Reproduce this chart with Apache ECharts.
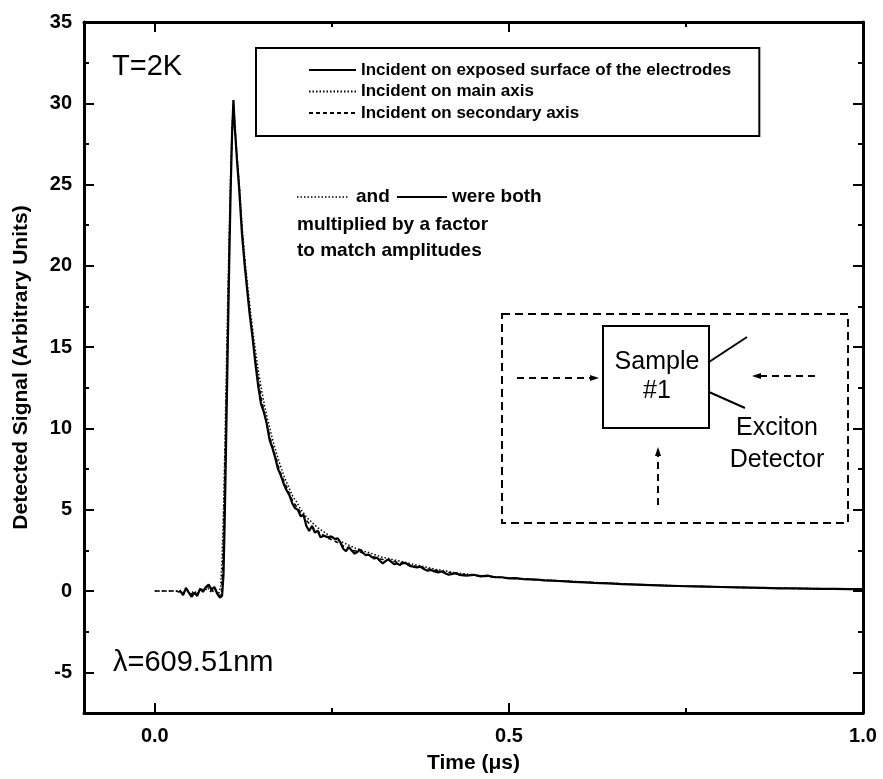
<!DOCTYPE html>
<html>
<head>
<meta charset="utf-8">
<script src="https://cdn.jsdelivr.net/npm/echarts@6/dist/echarts.min.js"></script>
<style>html,body{margin:0;padding:0;background:#fff;}#c{width:883px;height:779px;}</style>
</head>
<body>
<div id="c"></div>
<script>
var seriesNames = ['Incident on exposed surface of the electrodes', 'Incident on main axis', 'Incident on secondary axis'];
var xTicks = [0, 0.5, 1.0];
var xMinorTicks = [0.25, 0.75];
var yTicks = [-5, 0, 5, 10, 15, 20, 25, 30, 35];
var yMinorTicks = [-2.5, 2.5, 7.5, 12.5, 17.5, 22.5, 27.5, 32.5];

var exposedSurface = [[0.035,0.05],[0.040,-0.25],[0.044,0.2],[0.048,-0.1],[0.052,-0.35],[0.056,-0.1],[0.060,-0.3],[0.064,0.15],[0.068,-0.05],[0.072,0.25],[0.076,0.4],[0.080,0.1],[0.084,0.25],[0.088,-0.15],[0.092,-0.4],[0.095,-0.3],[0.097,1.0],[0.099,5],[0.101,10],[0.103,15],[0.105,20],[0.107,24.5],[0.109,28],[0.111,30.2],[0.113,28.5],[0.116,26.5],[0.119,24.8],[0.123,22],[0.127,20],[0.130,18.7],[0.134,17],[0.138,15.6],[0.142,14],[0.146,12.6],[0.150,11.5],[0.154,11.0],[0.158,10.3],[0.162,9.3],[0.166,8.8],[0.170,8.2],[0.174,7.5],[0.178,7.1],[0.182,6.6],[0.186,6.2],[0.190,5.9],[0.194,5.4],[0.198,5.1],[0.202,5.0],[0.206,4.6],[0.210,4.7],[0.214,4.0],[0.218,3.7],[0.222,4.0],[0.226,3.6],[0.230,3.7],[0.234,3.3],[0.238,3.4],[0.242,3.35],[0.246,3.3],[0.250,3.35],[0.254,3.2],[0.258,3.25],[0.262,3.0],[0.266,2.6],[0.270,2.45],[0.274,2.7],[0.278,2.5],[0.282,2.3],[0.286,2.4],[0.290,2.55],[0.294,2.35],[0.298,2.2],[0.302,2.25],[0.306,2.1],[0.310,2.0],[0.314,2.05],[0.318,1.85],[0.322,1.7],[0.326,1.85],[0.330,1.95],[0.334,1.8],[0.338,1.65],[0.342,1.7],[0.346,1.6],[0.350,1.75],[0.355,1.7],[0.360,1.55],[0.365,1.5],[0.370,1.45],[0.375,1.5],[0.380,1.35],[0.385,1.25],[0.390,1.3],[0.395,1.2],[0.400,1.15],[0.405,1.2],[0.410,1.1],[0.415,1.0],[0.420,1.05],[0.425,1.1],[0.430,1.0],[0.440,0.95],[0.450,1.0],[0.460,0.9],[0.470,0.95],[0.480,0.85],[0.490,0.85],[0.500,0.78],[0.510,0.8],[0.520,0.74],[0.530,0.72],[0.540,0.7],[0.550,0.66],[0.560,0.64],[0.570,0.62],[0.580,0.6],[0.590,0.56],[0.600,0.55],[0.620,0.5],[0.640,0.47],[0.660,0.43],[0.680,0.4],[0.700,0.37],[0.720,0.34],[0.740,0.31],[0.760,0.29],[0.780,0.27],[0.800,0.25],[0.820,0.23],[0.840,0.21],[0.860,0.19],[0.880,0.17],[0.900,0.16],[0.920,0.15],[0.940,0.14],[0.960,0.13],[0.980,0.12],[1.000,0.12]];

var mainAxis = [[0,0],[0.01,0],[0.02,0],[0.03,0],[0.035,0],[0.04,-0.1],[0.045,0.1],[0.05,-0.2],[0.055,0.0],[0.06,-0.15],[0.065,0.1],[0.07,0.0],[0.075,0.2],[0.08,-0.1],[0.085,0.1],[0.09,-0.2],[0.093,0.3],[0.095,2],[0.097,5],[0.099,9],[0.101,13.5],[0.103,18],[0.105,22],[0.107,25.5],[0.109,28.5],[0.111,29.8],[0.113,28.6],[0.116,26.8],[0.119,25.2],[0.123,22.6],[0.127,20.5],[0.131,18.8],[0.135,17.2],[0.139,15.8],[0.143,14.5],[0.147,13.3],[0.151,12.3],[0.155,11.4],[0.159,10.6],[0.163,9.9],[0.167,9.2],[0.171,8.6],[0.175,8.0],[0.179,7.5],[0.183,7.0],[0.187,6.6],[0.191,6.2],[0.195,5.8],[0.2,5.5],[0.205,5.1],[0.21,4.8],[0.215,4.5],[0.22,4.3],[0.225,4.1],[0.23,3.9],[0.235,3.75],[0.24,3.6],[0.245,3.45],[0.25,3.3],[0.255,3.2],[0.26,3.1],[0.265,3.0],[0.27,2.9],[0.275,2.8],[0.28,2.7],[0.285,2.6],[0.29,2.55],[0.295,2.45],[0.3,2.4],[0.31,2.25],[0.32,2.1],[0.33,2.0],[0.34,1.9],[0.35,1.8],[0.36,1.7],[0.37,1.6],[0.38,1.5],[0.39,1.4],[0.4,1.3],[0.41,1.25],[0.42,1.15],[0.43,1.1],[0.44,1.05],[0.45,1.0],[0.46,0.95],[0.48,0.88],[0.5,0.8],[0.52,0.75],[0.54,0.7],[0.56,0.66],[0.58,0.62],[0.6,0.58],[0.62,0.53],[0.64,0.49],[0.66,0.45],[0.68,0.41],[0.7,0.38],[0.72,0.35],[0.74,0.32],[0.76,0.3],[0.78,0.28],[0.8,0.26],[0.82,0.24],[0.84,0.22],[0.86,0.2],[0.88,0.18],[0.9,0.17],[0.92,0.16],[0.94,0.15],[0.96,0.14],[0.98,0.13],[1.0,0.13]];

var secondaryAxis = [[0,0],[0.01,0],[0.02,0],[0.03,0],[0.04,-0.15],[0.045,0.15],[0.05,-0.25],[0.055,-0.05],[0.06,-0.2],[0.065,0.1],[0.07,0.1],[0.075,0.3],[0.08,0.0],[0.085,0.2],[0.09,-0.3],[0.094,-0.2],[0.096,1.5],[0.098,5.5],[0.100,10],[0.102,14.5],[0.104,19],[0.106,23],[0.108,26.5],[0.110,29.2],[0.111,30.0],[0.113,28.6],[0.116,26.6],[0.119,25.0],[0.123,22.3],[0.127,20.2],[0.131,18.4],[0.135,16.8],[0.139,15.3],[0.143,13.9],[0.147,12.7],[0.151,11.7],[0.155,10.9],[0.159,10.1],[0.163,9.4],[0.167,8.8],[0.171,8.2],[0.175,7.6],[0.179,7.1],[0.183,6.7],[0.187,6.3],[0.191,5.9],[0.195,5.5],[0.2,5.2],[0.205,4.9],[0.21,4.6],[0.215,4.3],[0.22,4.05],[0.225,3.85],[0.23,3.7],[0.235,3.5],[0.24,3.4],[0.245,3.25],[0.25,3.15],[0.255,3.05],[0.26,2.95],[0.265,2.8],[0.27,2.7],[0.275,2.65],[0.28,2.5],[0.29,2.4],[0.3,2.25],[0.31,2.1],[0.32,1.95],[0.33,1.9],[0.34,1.8],[0.35,1.7],[0.36,1.6],[0.37,1.5],[0.38,1.42],[0.39,1.33],[0.4,1.25],[0.41,1.18],[0.42,1.1],[0.43,1.05],[0.44,1.0],[0.45,0.97],[0.46,0.92],[0.48,0.86],[0.5,0.79],[0.52,0.74],[0.54,0.69],[0.56,0.65],[0.58,0.61],[0.6,0.56],[0.62,0.52],[0.64,0.48],[0.66,0.44],[0.68,0.4],[0.7,0.37],[0.72,0.34],[0.74,0.31],[0.76,0.29],[0.78,0.27],[0.8,0.25],[0.82,0.23],[0.84,0.21],[0.86,0.19],[0.88,0.18],[0.9,0.16],[0.92,0.15],[0.94,0.14],[0.96,0.13],[0.98,0.12],[1.0,0.12]];

var FONT = '"Liberation Sans", Arial, sans-serif';
var chart = echarts.init(document.getElementById('c'), null, {renderer: 'canvas'});

function xAx(pos, ticks, len, line, labels) {
  return {
    type: 'value', min: -0.1, max: 1.0, position: pos,
    axisLine: {show: line, onZero: false, lineStyle: {color: '#000', width: 3}},
    axisTick: {show: true, inside: true, length: len, customValues: ticks, lineStyle: {color: '#000', width: 2}},
    axisLabel: labels ? {show: true, customValues: ticks, formatter: function (v) { return v.toFixed(1); }, fontSize: 20, fontWeight: 'bold', color: '#000', margin: 13, fontFamily: FONT} : {show: false},
    splitLine: {show: false}
  };
}
function yAx(pos, ticks, len, line, labels) {
  return {
    type: 'value', min: -7.5, max: 35, position: pos,
    axisLine: {show: line, onZero: false, lineStyle: {color: '#000', width: 3}},
    axisTick: {show: true, inside: true, length: len, customValues: ticks, lineStyle: {color: '#000', width: 2}},
    axisLabel: labels ? {show: true, customValues: ticks, fontSize: 20, fontWeight: 'bold', color: '#000', margin: 12, fontFamily: FONT} : {show: false},
    splitLine: {show: false}
  };
}

var xa0 = xAx('bottom', xTicks, 10, true, true);
xa0.name = 'Time (\u03bcs)';
xa0.nameLocation = 'middle';
xa0.nameGap = 40;
xa0.nameTextStyle = {fontSize: 21, fontWeight: 'bold', color: '#000', fontFamily: FONT};
var ya0 = yAx('left', yTicks, 10, true, true);
ya0.name = 'Detected Signal (Arbitrary Units)';
ya0.nameLocation = 'middle';
ya0.nameGap = 52;
ya0.nameTextStyle = {fontSize: 21, fontWeight: 'bold', color: '#000', fontFamily: FONT};

var option = {
  animation: false,
  backgroundColor: '#fff',
  grid: {left: 84, right: 20, top: 22, bottom: 62, containLabel: false},
  xAxis: [xa0, xAx('bottom', xMinorTicks, 5, false, false), xAx('top', xTicks, 10, true, false), xAx('top', xMinorTicks, 5, false, false)],
  yAxis: [ya0, yAx('left', yMinorTicks, 5, false, false), yAx('right', yTicks, 10, true, false), yAx('right', yMinorTicks, 5, false, false)],
  legend: {
    show: true, orient: 'vertical', left: 256, top: 48,
    data: seriesNames,
    itemWidth: 47, itemHeight: 14, itemGap: 3.5,
    padding: [13, 28, 14, 52],
    borderColor: '#000', borderWidth: 2, borderRadius: 0,
    itemStyle: {opacity: 0},
    textStyle: {fontSize: 17, fontWeight: 'bold', color: '#000', fontFamily: FONT, lineHeight: 18}
  },
  series: [
    {name: seriesNames[0], type: 'line', data: exposedSurface, symbol: 'none', z: 5, lineStyle: {color: '#000', width: 2.2, type: 'solid'}, itemStyle: {color: '#000'}},
    {name: seriesNames[1], type: 'line', data: mainAxis, symbol: 'none', z: 4, lineStyle: {color: '#000', width: 1.5, type: [1.5, 2]}, itemStyle: {color: '#000'}},
    {name: seriesNames[2], type: 'line', data: secondaryAxis, symbol: 'none', z: 3, lineStyle: {color: '#000', width: 1.5, type: [4, 3]}, itemStyle: {color: '#000'}}
  ],
  graphic: [
    {type: 'text', left: 112, top: 52, style: {text: 'T=2K', font: '29px ' + FONT, fill: '#000'}},
    {type: 'text', left: 113, top: 648, style: {text: '\u03bb=609.51nm', font: '29px ' + FONT, fill: '#000'}},
    {type: 'line', shape: {x1: 297, y1: 197, x2: 348, y2: 197}, style: {stroke: '#000', lineWidth: 1.5, lineDash: [1.5, 2]}},
    {type: 'text', x: 356, y: 197, style: {text: 'and', font: 'bold 19px ' + FONT, fill: '#000', verticalAlign: 'middle'}},
    {type: 'line', shape: {x1: 397, y1: 197, x2: 447, y2: 197}, style: {stroke: '#000', lineWidth: 2}},
    {type: 'text', x: 452, y: 197, style: {text: 'were both', font: 'bold 19px ' + FONT, fill: '#000', verticalAlign: 'middle'}},
    {type: 'text', x: 297, y: 225, style: {text: 'multiplied by a factor', font: 'bold 19px ' + FONT, fill: '#000', verticalAlign: 'middle'}},
    {type: 'text', x: 297, y: 251, style: {text: 'to match amplitudes', font: 'bold 19px ' + FONT, fill: '#000', verticalAlign: 'middle'}},
    {type: 'rect', shape: {x: 502, y: 314, width: 346, height: 209}, style: {fill: 'none', stroke: '#000', lineWidth: 2, lineDash: [8, 5]}},
    {type: 'rect', shape: {x: 603, y: 326, width: 106, height: 102}, style: {fill: 'none', stroke: '#000', lineWidth: 2}},
    {type: 'text', x: 657, y: 362, style: {text: 'Sample', font: '25px ' + FONT, fill: '#000', align: 'center', verticalAlign: 'middle'}},
    {type: 'text', x: 657, y: 391, style: {text: '#1', font: '25px ' + FONT, fill: '#000', align: 'center', verticalAlign: 'middle'}},
    {type: 'line', shape: {x1: 709, y1: 362, x2: 747, y2: 337}, style: {stroke: '#000', lineWidth: 2}},
    {type: 'line', shape: {x1: 709, y1: 392, x2: 745, y2: 408}, style: {stroke: '#000', lineWidth: 2}},
    {type: 'text', x: 777, y: 428, style: {text: 'Exciton', font: '25px ' + FONT, fill: '#000', align: 'center', verticalAlign: 'middle'}},
    {type: 'text', x: 777, y: 460, style: {text: 'Detector', font: '25px ' + FONT, fill: '#000', align: 'center', verticalAlign: 'middle'}},
    {type: 'line', shape: {x1: 517, y1: 378, x2: 591, y2: 378}, style: {stroke: '#000', lineWidth: 2, lineDash: [7, 5]}},
    {type: 'polygon', shape: {points: [[599, 378], [590, 375], [590, 381]]}, style: {fill: '#000'}},
    {type: 'line', shape: {x1: 815, y1: 376, x2: 760, y2: 376}, style: {stroke: '#000', lineWidth: 2, lineDash: [7, 5]}},
    {type: 'polygon', shape: {points: [[752, 376], [761, 373], [761, 379]]}, style: {fill: '#000'}},
    {type: 'line', shape: {x1: 658, y1: 505, x2: 658, y2: 456}, style: {stroke: '#000', lineWidth: 2, lineDash: [7, 5]}},
    {type: 'polygon', shape: {points: [[658, 447], [655, 456], [661, 456]]}, style: {fill: '#000'}}
  ]
};
chart.setOption(option);
</script>
</body>
</html>
